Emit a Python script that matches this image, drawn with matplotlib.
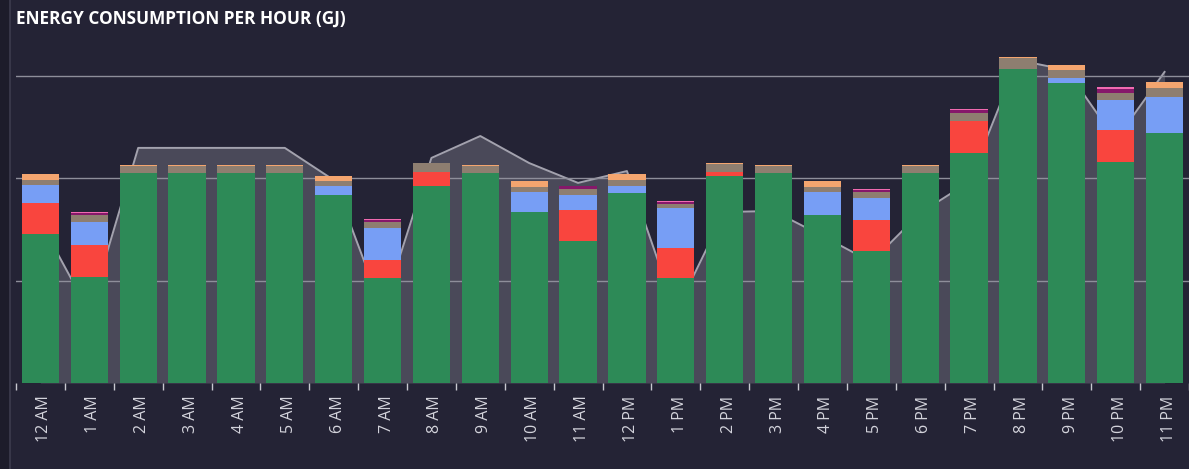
import numpy as np
import matplotlib
matplotlib.use('Agg')
import matplotlib.pyplot as plt
import matplotlib.transforms as mtransforms
from matplotlib.lines import Line2D
from matplotlib.patches import Rectangle

hours = ['12 AM', '1 AM', '2 AM', '3 AM', '4 AM', '5 AM', '6 AM', '7 AM', '8 AM', '9 AM', '10 AM', '11 AM',
         '12 PM', '1 PM', '2 PM', '3 PM', '4 PM', '5 PM', '6 PM', '7 PM', '8 PM', '9 PM', '10 PM', '11 PM']

# stacked components (GJ)
green = [72.8, 51.8, 102.5, 102.5, 102.5, 102.5, 91.8, 51.3, 96.2, 102.5, 83.5, 69.3,
         92.8, 51.3, 101.1, 102.5, 82.0, 64.5, 102.5, 112.3, 153.3, 146.5, 107.9, 122.1]
red = [15.1, 15.6, 0, 0, 0, 0, 0, 8.8, 6.8, 0, 0, 15.1,
       0, 14.6, 2.0, 0, 0, 15.1, 0, 15.6, 0, 0, 15.6, 0]
blue = [8.8, 11.2, 0, 0, 0, 0, 4.4, 15.6, 0, 0, 9.8, 7.3,
        3.4, 19.5, 0, 0, 11.2, 10.7, 0, 0, 0, 2.4, 14.9, 17.6]
grey = [2.4, 3.4, 3.4, 3.4, 3.4, 3.4, 2.4, 2.9, 4.2, 3.4, 2.4, 2.9,
        2.9, 2.0, 3.8, 3.4, 2.4, 2.9, 3.4, 3.9, 5.5, 3.8, 3.4, 4.4]
orange = [2.9, 0, 0.4, 0.4, 0.4, 0.4, 2.6, 0, 0.4, 0.4, 2.9, 0,
          2.9, 0, 0.4, 0.4, 2.9, 0, 0.4, 0, 0.4, 2.8, 0, 2.9]
magenta = [0, 1.2, 0, 0, 0, 0, 0, 1.0, 0, 0, 0, 1.6,
           0, 1.2, 0, 0, 0, 0.9, 0, 1.3, 0, 0, 2.0, 0]
pink = [0, 0.5, 0, 0, 0, 0, 0, 0.5, 0, 0, 0, 0,
        0, 0.5, 0, 0, 0, 0.5, 0, 0.6, 0, 0, 0.5, 0]

# background area series
area = [78.6, 34.7, 114.8, 114.8, 114.8, 114.8, 99.1, 35.6, 109.9, 120.6, 107.4, 97.7,
        103.5, 34.7, 83.5, 84.0, 71.8, 59.1, 83.0, 98.2, 157.7, 152.8, 118.7, 151.9]

bg = '#242335'
colors = ['#2d8a57', '#f9453e', '#779ef5', '#8e7e70', '#f4a56f', '#86186a', '#f06ab0']

fig = plt.figure(figsize=(11.89, 4.69), dpi=100, facecolor=bg)
W, H = 1189, 469
ax = fig.add_axes([16 / W, 86 / H, (1189 - 16) / W, (383 - 40) / H])
ax.set_facecolor(bg)

x = np.arange(len(hours))
ax.fill_between(x, 0, area, color='#4a4959', zorder=1, linewidth=0)
ax.plot(x, area, color='#a3a2ae', lw=1.4, zorder=1.5)

for gy in [50, 100, 150]:
    ax.axhline(gy, color='#8e8e9a', lw=1, zorder=2)

bottom = np.zeros(len(hours))
for vals, c in zip([green, red, blue, grey, orange, magenta, pink], colors):
    vals = np.array(vals)
    ax.bar(x, vals, width=0.76, bottom=bottom, color=c, zorder=3, linewidth=0)
    bottom += vals

ax.set_xlim(-0.5, -0.5 + (1189 - 16) / 49.2)
ax.set_ylim(0, (383 - 40) * 0.4883)

for s in ax.spines.values():
    s.set_visible(False)
ax.set_yticks([])
ax.set_xticks(x)
ax.set_xticklabels(hours, rotation=90, fontsize=11.5, color='#d4d4dc', family='Open Sans')
ax.tick_params(axis='x', which='major', length=0, pad=9)
ax.set_xticks(np.arange(len(hours) + 1) - 0.5, minor=True)
ax.tick_params(axis='x', which='minor', length=5, color='#c8c8d0', width=1)

shift = mtransforms.ScaledTranslation(4 / 100, 0, fig.dpi_scale_trans)
for lbl in ax.get_xticklabels():
    lbl.set_transform(lbl.get_transform() + shift)

# panel edge
fig.patches.append(Rectangle((0, 0), 9 / W, 1, transform=fig.transFigure, color='#1d1c2a', zorder=0))
fig.lines.append(Line2D([9.5 / W, 9.5 / W], [0, 1], transform=fig.transFigure, color='#3d3c4e', lw=1.2))

fig.text(16 / W, 1 - 19 / H, 'ENERGY CONSUMPTION PER HOUR (GJ)', color='white', fontsize=12.4,
         fontweight='bold', family='Open Sans', va='center', ha='left')

fig.savefig('out.png', dpi=100, facecolor=bg)
